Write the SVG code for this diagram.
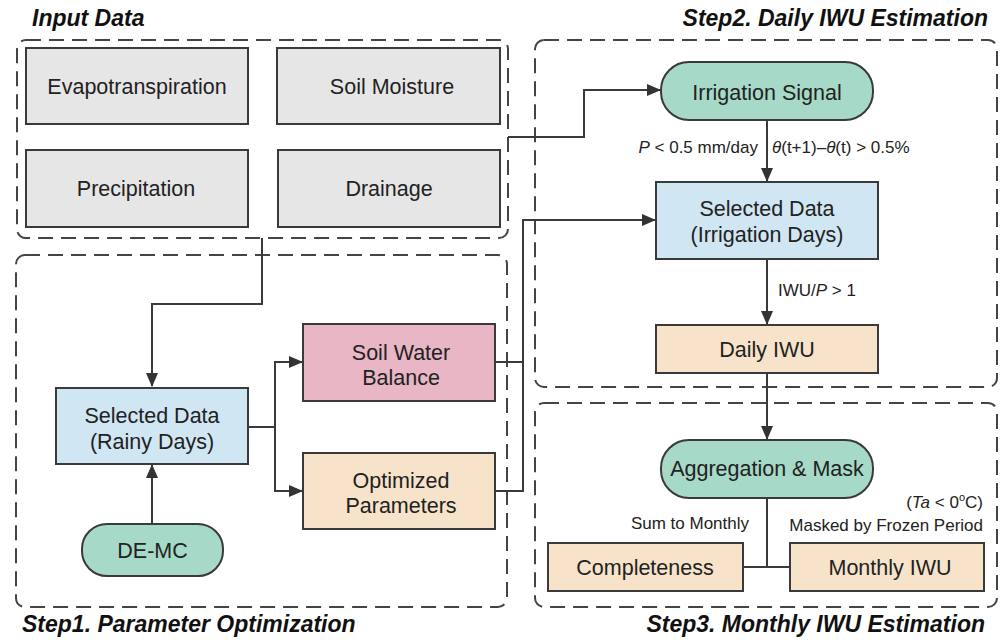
<svg xmlns="http://www.w3.org/2000/svg" width="1001" height="640" viewBox="0 0 1001 640">
<defs>
<style>
.panel{fill:none;stroke:#444;stroke-width:2;stroke-dasharray:15 8}
.box{stroke:#3a3a3a;stroke-width:2}
.grey{fill:#e6e6e6}
.green{fill:#a6d9c7}
.blue{fill:#d0e6f3}
.pink{fill:#e8b6c5}
.beige{fill:#f6e3ca}
.t{font-family:"Liberation Sans",Arial,sans-serif;font-size:21.5px;fill:#222;text-anchor:middle}
.lab{font-family:"Liberation Sans",Arial,sans-serif;font-size:17px;fill:#222}
.title{font-family:"Liberation Sans",Arial,sans-serif;font-size:23px;font-weight:bold;font-style:italic;fill:#111}
.conn{fill:none;stroke:#3a3a3a;stroke-width:2}
</style>
<marker id="arr" markerUnits="userSpaceOnUse" markerWidth="14" markerHeight="12" refX="13" refY="6" orient="auto">
<path d="M0,0 L14,6 L0,12 z" fill="#333"/>
</marker>
</defs>
<rect width="1001" height="640" fill="#fff"/>

<g id="panels">
<rect class="panel" x="17" y="40" width="491" height="198" rx="9"/>
<rect class="panel" x="16" y="255" width="491" height="352" rx="9"/>
<rect class="panel" x="535" y="40" width="462" height="347" rx="9"/>
<rect class="panel" x="535" y="403" width="462" height="204" rx="9"/>
<text class="title" x="32" y="26">Input Data</text>
<text class="title" x="988" y="26" text-anchor="end">Step2. Daily IWU Estimation</text>
<text class="title" x="22" y="632">Step1. Parameter Optimization</text>
<text class="title" x="985" y="632" text-anchor="end">Step3. Monthly IWU Estimation</text>
</g>

<g id="connectors">
<path class="conn" d="M262,238 V304 H152 V386" marker-end="url(#arr)"/>
<path class="conn" d="M152,524 V465" marker-end="url(#arr)"/>
<path class="conn" d="M248,427 H275 V362 H302" marker-end="url(#arr)"/>
<path class="conn" d="M275,427 V491 H302" marker-end="url(#arr)"/>
<path class="conn" d="M495,362 H523"/>
<path class="conn" d="M495,491 H523 V220 H655" marker-end="url(#arr)"/>
<path class="conn" d="M508,137 H584 V90 H660" marker-end="url(#arr)"/>
<path class="conn" d="M767,120 V181" marker-end="url(#arr)"/>
<path class="conn" d="M767,259 V324" marker-end="url(#arr)"/>
<path class="conn" d="M767,373 V439" marker-end="url(#arr)"/>
<path class="conn" d="M767,498 V567"/>
<path class="conn" d="M743,567 H790"/>
<text class="lab" x="758" y="153" text-anchor="end"><tspan font-style="italic">P</tspan> &lt; 0.5 mm/day</text>
<text class="lab" x="772" y="153"><tspan font-style="italic">θ</tspan>(t+1)–<tspan font-style="italic">θ</tspan>(t) &gt; 0.5%</text>
<text class="lab" x="778" y="296">IWU/<tspan font-style="italic">P</tspan> &gt; 1</text>
<text class="lab" x="983" y="508" text-anchor="end">(<tspan font-style="italic">Ta</tspan> &lt; 0<tspan font-size="11" dy="-7">o</tspan><tspan dy="7">C)</tspan></text>
<text class="lab" x="983" y="531" text-anchor="end">Masked by Frozen Period</text>
<text class="lab" x="749" y="529" text-anchor="end">Sum to Monthly</text>
</g>

<g id="evapotranspiration">
<rect class="box grey" x="26" y="48" width="222" height="76"/>
<text class="t" x="137" y="93.5">Evapotranspiration</text>
</g>
<g id="soil-moisture">
<rect class="box grey" x="277" y="48" width="223" height="76"/>
<text class="t" x="392" y="93.5">Soil Moisture</text>
</g>
<g id="precipitation">
<rect class="box grey" x="26" y="150" width="222" height="77"/>
<text class="t" x="136" y="196">Precipitation</text>
</g>
<g id="drainage">
<rect class="box grey" x="278" y="150" width="222" height="77"/>
<text class="t" x="389" y="196">Drainage</text>
</g>

<g id="selected-rainy">
<rect class="box blue" x="56" y="388" width="192" height="76"/>
<text class="t" x="152" y="422.5">Selected Data</text>
<text class="t" x="152" y="448.5">(Rainy Days)</text>
</g>
<g id="de-mc">
<rect class="box green" x="82" y="524" width="141" height="52" rx="25"/>
<text class="t" x="152.5" y="557.5">DE-MC</text>
</g>
<g id="soil-water-balance">
<rect class="box pink" x="303" y="324" width="192" height="77"/>
<text class="t" x="401" y="359.5">Soil Water</text>
<text class="t" x="401" y="384.5">Balance</text>
</g>
<g id="optimized-parameters">
<rect class="box beige" x="303" y="453" width="192" height="76"/>
<text class="t" x="401" y="487.5">Optimized</text>
<text class="t" x="401" y="512.5">Parameters</text>
</g>

<g id="irrigation-signal">
<rect class="box green" x="661" y="62" width="212" height="58" rx="28"/>
<text class="t" x="767" y="99.5">Irrigation Signal</text>
</g>
<g id="selected-irrigation">
<rect class="box blue" x="656" y="182" width="222" height="77"/>
<text class="t" x="767" y="215.5">Selected Data</text>
<text class="t" x="767" y="241.5">(Irrigation Days)</text>
</g>
<g id="daily-iwu">
<rect class="box beige" x="656" y="325" width="222" height="48"/>
<text class="t" x="767" y="356.5">Daily IWU</text>
</g>

<g id="aggregation-mask">
<rect class="box green" x="661" y="440" width="212" height="58" rx="28"/>
<text class="t" x="767" y="475.5">Aggregation &amp; Mask</text>
</g>
<g id="completeness">
<rect class="box beige" x="548" y="543" width="195" height="48"/>
<text class="t" x="645" y="574.5">Completeness</text>
</g>
<g id="monthly-iwu">
<rect class="box beige" x="790" y="543" width="194" height="48"/>
<text class="t" x="890" y="574.5">Monthly IWU</text>
</g>
</svg>
